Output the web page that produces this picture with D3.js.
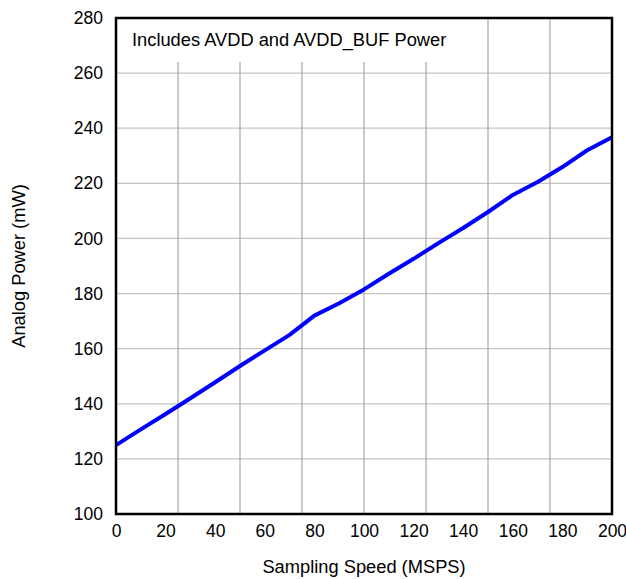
<!DOCTYPE html>
<html>
<head>
<meta charset="utf-8">
<script src="https://cdn.jsdelivr.net/npm/d3@7"></script>
<style>
  body { margin: 0; background: #fff; }
  svg { display: block; font-family: Arial, "Liberation Sans", sans-serif; }
</style>
</head>
<body>
<svg id="chart"></svg>
<script>
// sampling speed (MSPS) and analog power (mW)
const speed = [0, 10, 20, 30, 40, 50, 60, 70, 80, 90, 100, 110, 120, 130, 140, 150, 160, 170, 180, 190, 200];
const power = [125, 130.7, 136.3, 142, 147.8, 153.7, 159.4, 165, 172, 176.5, 181.5, 187.2, 192.6, 198.3, 203.8, 209.6, 215.8, 220.5, 225.9, 232, 236.7];
const xTicks = [0, 20, 40, 60, 80, 100, 120, 140, 160, 180, 200];
const yTicks = [100, 120, 140, 160, 180, 200, 220, 240, 260, 280];
const xGrid = [25, 50, 75, 100, 125, 150, 175];
const note = "Includes AVDD and AVDD_BUF Power";

const width = 626, height = 579;
const margin = {top: 18, right: 14, bottom: 65, left: 116};

const svg = d3.select("#chart")
    .attr("width", width)
    .attr("height", height);

const x = d3.scaleLinear()
    .domain([0, 200])
    .range([margin.left, width - margin.right]);

const y = d3.scaleLinear()
    .domain([100, 280])
    .range([height - margin.bottom, margin.top]);

// grid
svg.append("g")
    .selectAll("line")
    .data(yTicks.slice(1, -1))
    .join("line")
    .attr("x1", x(0)).attr("x2", x(200))
    .attr("y1", d => y(d)).attr("y2", d => y(d))
    .attr("stroke", "#c4c4c4")
    .attr("stroke-width", 1.2);

svg.append("g")
    .selectAll("line")
    .data(xGrid)
    .join("line")
    .attr("x1", d => x(d)).attr("x2", d => x(d))
    .attr("y1", y(100)).attr("y2", y(280))
    .attr("stroke", "#a8a8a8")
    .attr("stroke-width", 1.2);

// note box covers the top of the grid
const noteBox = svg.append("rect")
    .attr("x", x(0))
    .attr("y", y(280))
    .attr("height", 44)
    .attr("fill", "#fff");

const noteText = svg.append("text")
    .attr("x", x(0) + 16)
    .attr("y", y(280) + 28)
    .attr("font-size", 18.3)
    .attr("fill", "#000")
    .text(note);

noteBox.attr("width", noteText.node().getComputedTextLength() + 34);

// data line
const line = d3.line()
    .x((d, i) => x(speed[i]))
    .y(d => y(d));

svg.append("path")
    .datum(power)
    .attr("d", line)
    .attr("fill", "none")
    .attr("stroke", "#0000ff")
    .attr("stroke-width", 4)
    .attr("stroke-linejoin", "round");

// frame
svg.append("rect")
    .attr("x", x(0))
    .attr("y", y(280))
    .attr("width", x(200) - x(0))
    .attr("height", y(100) - y(280))
    .attr("fill", "none")
    .attr("stroke", "#000")
    .attr("stroke-width", 2.5);

// axes (labels only)
const xAxis = svg.append("g")
    .attr("transform", `translate(0,${y(100)})`)
    .call(d3.axisBottom(x).tickValues(xTicks).tickSize(0).tickPadding(11));
xAxis.select(".domain").remove();
xAxis.selectAll("text")
    .attr("font-size", 17.5)
    .attr("font-family", "Arial, 'Liberation Sans', sans-serif")
    .attr("fill", "#000");

const yAxis = svg.append("g")
    .attr("transform", `translate(${x(0)},0)`)
    .call(d3.axisLeft(y).tickValues(yTicks).tickSize(0).tickPadding(13));
yAxis.select(".domain").remove();
yAxis.selectAll("text")
    .attr("font-size", 17.5)
    .attr("font-family", "Arial, 'Liberation Sans', sans-serif")
    .attr("fill", "#000");

// axis titles
svg.append("text")
    .attr("x", (x(0) + x(200)) / 2)
    .attr("y", 573)
    .attr("text-anchor", "middle")
    .attr("font-size", 18.3)
    .text("Sampling Speed (MSPS)");

svg.append("text")
    .attr("transform", `translate(25,${(y(100) + y(280)) / 2}) rotate(-90)`)
    .attr("text-anchor", "middle")
    .attr("font-size", 18.3)
    .text("Analog Power (mW)");
</script>
</body>
</html>
